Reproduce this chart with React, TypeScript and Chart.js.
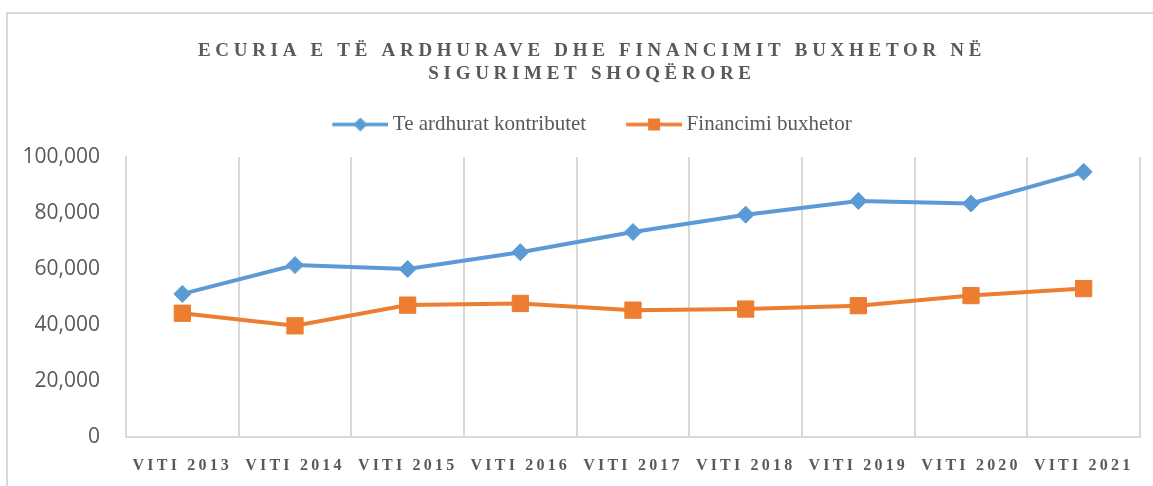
import React, { useEffect, useRef } from 'react';
import { Chart, registerables } from 'chart.js';

Chart.register(...registerables);

const TITLE_LINES = ['ECURIA E TË ARDHURAVE DHE FINANCIMIT BUXHETOR NË', 'SIGURIMET SHOQËRORE'];
const YEARS = ['VITI 2013', 'VITI 2014', 'VITI 2015', 'VITI 2016', 'VITI 2017', 'VITI 2018', 'VITI 2019', 'VITI 2020', 'VITI 2021'];
const CONTRIBUTIONS = [51100, 61400, 60000, 66000, 73200, 79400, 84300, 83400, 94700];
const BUDGET_FUNDING = [44200, 39700, 47100, 47700, 45300, 45700, 46900, 50500, 53000];
const SERIES_NAMES = ['Te ardhurat kontributet', 'Financimi buxhetor'];
const Y_TICKS = [0, 20000, 40000, 60000, 80000, 100000];

const BLUE = '#5b9bd5';
const ORANGE = '#ed7d31';
const TEXT = '#595959';
const GRID = '#d9d9d9';
const SERIF = "'Liberation Serif', 'Times New Roman', serif";
const SANS = "'Open Sans', 'Liberation Sans', sans-serif";

function makeLegendIcon(color: string, shape: 'diamond' | 'square'): HTMLCanvasElement {
  const c = document.createElement('canvas');
  c.width = 62;
  c.height = 18;
  const g = c.getContext('2d')!;
  g.strokeStyle = color;
  g.lineWidth = 3.5;
  g.beginPath();
  g.moveTo(6, 9);
  g.lineTo(62, 9);
  g.stroke();
  g.fillStyle = color;
  const cx = 34;
  const cy = 9;
  if (shape === 'diamond') {
    g.beginPath();
    g.moveTo(cx, cy - 7);
    g.lineTo(cx + 7, cy);
    g.lineTo(cx, cy + 7);
    g.lineTo(cx - 7, cy);
    g.closePath();
    g.fill();
  } else {
    g.fillRect(cx - 6, cy - 6, 12, 12);
  }
  return c;
}

const stylePlugin = {
  id: 'refStyle',
  afterInit(chart: any) {
    if (chart.$refPatched) return;
    chart.$refPatched = true;
    const t = chart.titleBlock;
    if (t) {
      const od = t.draw.bind(t);
      t.draw = function () {
        const ctx = chart.ctx;
        ctx.save();
        ctx.letterSpacing = '4.7px';
        od();
        ctx.restore();
      };
    }
    const lg = chart.legend;
    if (lg) {
      const of = lg.fit.bind(lg);
      lg.fit = function () {
        of();
        this.height += 12;
      };
    }
  },
};

export default function App() {
  const ref = useRef<HTMLCanvasElement | null>(null);

  useEffect(() => {
    if (!ref.current) return;
    const icons = [makeLegendIcon(BLUE, 'diamond'), makeLegendIcon(ORANGE, 'square')];
    const chart = new Chart(ref.current, {
      type: 'line',
      data: {
        labels: YEARS,
        datasets: [
          {
            label: SERIES_NAMES[0],
            data: CONTRIBUTIONS,
            borderColor: BLUE,
            backgroundColor: BLUE,
            borderWidth: 4,
            pointStyle: 'rectRot',
            pointRadius: 8.5,
            pointBorderWidth: 1,
            pointBackgroundColor: BLUE,
            pointBorderColor: BLUE,
            tension: 0,
            xAxisID: 'x',
            yAxisID: 'y',
          },
          {
            label: SERIES_NAMES[1],
            data: BUDGET_FUNDING,
            borderColor: ORANGE,
            backgroundColor: ORANGE,
            borderWidth: 4,
            pointStyle: 'rect',
            pointRadius: 11.5,
            pointBorderWidth: 1,
            pointBackgroundColor: ORANGE,
            pointBorderColor: ORANGE,
            tension: 0,
            xAxisID: 'x',
            yAxisID: 'y',
          },
        ],
      },
      options: {
        responsive: false,
        animation: false,
        layout: { padding: 0 },
        plugins: {
          title: {
            display: true,
            text: TITLE_LINES,
            color: TEXT,
            font: { family: SERIF, size: 19, weight: 'bold', lineHeight: '23px' },
            padding: { top: 26, bottom: -12 },
          },
          legend: {
            display: true,
            position: 'top',
            labels: {
              usePointStyle: true,
              pointStyleWidth: 50,
              padding: 40,
              color: TEXT,
              font: { family: SERIF, size: 21 },
              generateLabels: (ch: any) =>
                ch.data.datasets.map((ds: any, i: number) => ({
                  text: ds.label,
                  pointStyle: icons[i],
                  fillStyle: ds.borderColor,
                  strokeStyle: ds.borderColor,
                  lineWidth: 0,
                  hidden: false,
                  datasetIndex: i,
                  fontColor: TEXT,
                })),
            },
          },
          tooltip: { enabled: false },
        },
        scales: {
          x: {
            type: 'category',
            offset: true,
            grid: { display: true, offset: true, color: GRID, lineWidth: 2, drawTicks: false },
            border: { display: true, color: GRID, width: 2 },
            ticks: {
              color: TEXT,
              font: { family: SERIF, size: 16, weight: 'bold', lineHeight: '18px' },
              padding: 20,
              autoSkip: false,
              maxRotation: 0,
              minRotation: 0,
            },
            afterFit: (s: any) => {
              s.height = 49;
              if (!s.$ls) {
                s.$ls = true;
                const o = s.drawLabels.bind(s);
                s.drawLabels = (area: any) => {
                  s.ctx.save();
                  s.ctx.letterSpacing = '3.2px';
                  o(area);
                  s.ctx.restore();
                };
              }
            },
          },
          y: {
            type: 'linear',
            position: 'left',
            min: 0,
            max: 100000,
            grid: { display: false, drawTicks: false },
            border: { display: true, color: GRID, width: 2 },
            ticks: {
              color: TEXT,
              font: { family: SANS, size: 21 },
              padding: 26,
              callback: (v: any) => Number(v).toLocaleString('en-US'),
            },
            afterBuildTicks: (s: any) => {
              s.ticks = Y_TICKS.map((v) => ({ value: v }));
            },
            afterFit: (s: any) => {
              s.width = 118;
            },
          },
          yPad: {
            type: 'linear',
            position: 'right',
            display: true,
            grid: { display: false, drawTicks: false },
            border: { display: false },
            ticks: { display: false },
            afterFit: (s: any) => {
              s.width = 36;
            },
          },
        },
      },
      plugins: [stylePlugin],
    } as any);
    return () => chart.destroy();
  }, []);

  return (
    <div
      style={{
        position: 'fixed',
        left: 6,
        top: 12,
        borderLeft: '2px solid #d9d9d9',
        borderTop: '2px solid #d9d9d9',
        background: '#fff',
      }}
    >
      <canvas ref={ref} width={1168} height={472} style={{ display: 'block' }} />
    </div>
  );
}
